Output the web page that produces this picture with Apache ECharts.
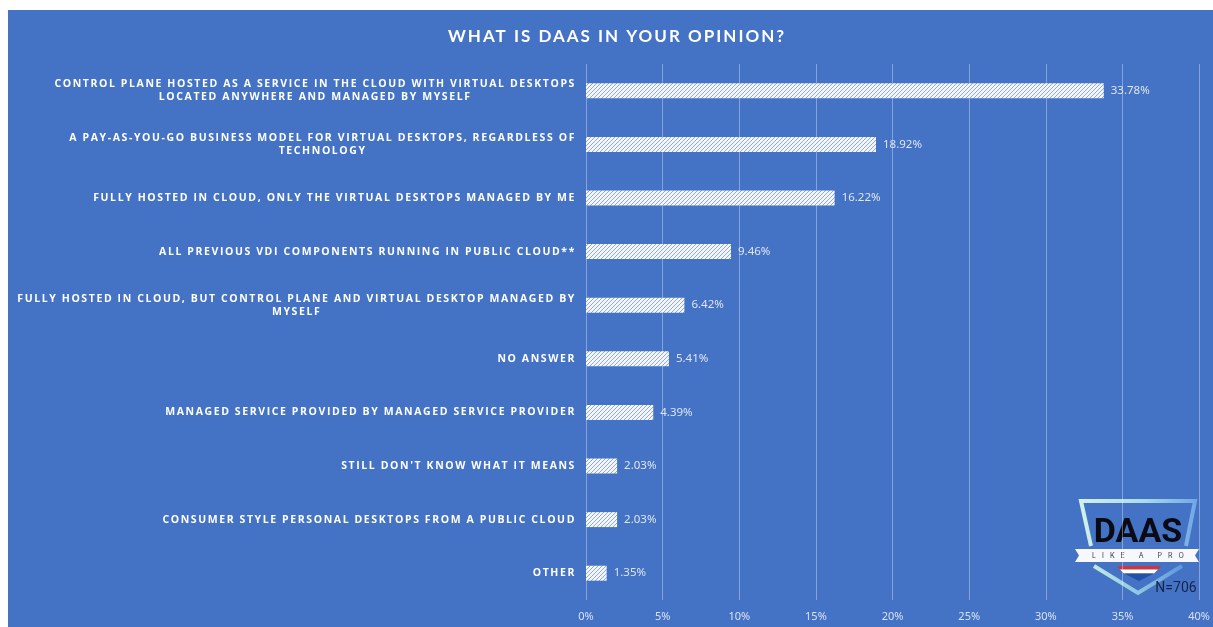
<!DOCTYPE html>
<html>
<head>
<meta charset="utf-8">
<script src="https://cdn.jsdelivr.net/npm/echarts@6/dist/echarts.min.js"></script>
<style>html,body{margin:0;padding:0;background:#fff;}#chart{width:1213px;height:627px;}</style>
</head>
<body>
<div id="chart"></div>
<script>
// letter spacing for spaced-out caps text (canvas letterSpacing)
(function(){
  var P = CanvasRenderingContext2D.prototype;
  if (!('letterSpacing' in P)) return;
  function ls(ctx){
    var f = ctx.font, s = '0px';
    if (f.indexOf('Open Sans') >= 0) s = '1.6px';
    else if (f.indexOf('Lato') >= 0) s = '2px';
    else if (f.indexOf('Inter') >= 0) s = '6px';
    if (ctx.letterSpacing !== s) ctx.letterSpacing = s;
  }
  var ft = P.fillText, mt = P.measureText;
  P.fillText = function(){ ls(this); return ft.apply(this, arguments); };
  P.measureText = function(){ ls(this); return mt.apply(this, arguments); };
})();

var titleText = 'WHAT IS DAAS IN YOUR OPINION?';
var categories = [
  'CONTROL PLANE HOSTED AS A SERVICE IN THE CLOUD WITH VIRTUAL DESKTOPS\nLOCATED ANYWHERE AND MANAGED BY MYSELF',
  'A PAY-AS-YOU-GO BUSINESS MODEL FOR VIRTUAL DESKTOPS, REGARDLESS OF\nTECHNOLOGY',
  'FULLY HOSTED IN CLOUD, ONLY THE VIRTUAL DESKTOPS MANAGED BY ME',
  'ALL PREVIOUS VDI COMPONENTS RUNNING IN PUBLIC CLOUD**',
  'FULLY HOSTED IN CLOUD, BUT CONTROL PLANE AND VIRTUAL DESKTOP MANAGED BY\nMYSELF',
  'NO ANSWER',
  'MANAGED SERVICE PROVIDED BY MANAGED SERVICE PROVIDER',
  "STILL DON'T KNOW WHAT IT MEANS",
  'CONSUMER STYLE PERSONAL DESKTOPS FROM A PUBLIC CLOUD',
  'OTHER'
];
var values = [33.78, 18.92, 16.22, 9.46, 6.42, 5.41, 4.39, 2.03, 2.03, 1.35];
var xTicks = { min: 0, max: 40, interval: 5 };
var logoTitle = 'DAAS';
var logoSub = 'LIKE A PRO';
var sampleNote = 'N=706';

// hatch pattern
var pc = document.createElement('canvas');
pc.width = 4; pc.height = 4;
var g = pc.getContext('2d');
g.fillStyle = '#f3f6fc'; g.fillRect(0, 0, 4, 4);
g.strokeStyle = '#8ea8da'; g.lineWidth = 1;
g.beginPath();
g.moveTo(0, 4); g.lineTo(4, 0);
g.moveTo(-1, 1); g.lineTo(1, -1);
g.moveTo(3, 5); g.lineTo(5, 3);
g.stroke();

var chart = echarts.init(document.getElementById('chart'), null, { renderer: 'canvas' });
var option = {
  backgroundColor: '#ffffff',
  animation: false,
  title: {
    text: titleText, left: 443, top: 22,
    textStyle: { color: '#ffffff', fontSize: 17, fontWeight: 'bold', fontFamily: 'Lato' }
  },
  grid: { left: 586, right: 11, top: 64, bottom: 27, containLabel: false },
  xAxis: {
    type: 'value', min: xTicks.min, max: xTicks.max, interval: xTicks.interval,
    axisLine: { show: false }, axisTick: { show: false },
    splitLine: { show: true, lineStyle: { color: 'rgba(255,255,255,0.35)', width: 1 } },
    axisLabel: { formatter: '{value}%', color: '#d9e2f3', fontSize: 11, fontFamily: 'Noto Sans', margin: 11 }
  },
  yAxis: {
    type: 'category', data: categories, inverse: true,
    axisLine: { show: false }, axisTick: { show: false },
    axisLabel: {
      margin: 10, color: '#ffffff', fontSize: 10.5, fontWeight: 'bold', fontFamily: 'Open Sans', lineHeight: 13,
      formatter: function (v) {
        var parts = v.split('\n');
        if (parts.length === 1) return v;
        return parts.map(function (p) { return '{c|' + p + '}'; }).join('\n');
      },
      rich: { c: { align: 'center', color: '#ffffff', fontSize: 10.5, fontWeight: 'bold', fontFamily: 'Open Sans', lineHeight: 13 } }
    }
  },
  series: [{
    type: 'bar', data: values, barWidth: 15,
    itemStyle: { color: { image: pc, repeat: 'repeat' } },
    label: {
      show: true, position: 'right', distance: 7, color: '#dfe6f3', fontSize: 11.5, fontFamily: 'Noto Sans',
      formatter: function (p) { return p.value.toFixed(2) + '%'; }
    }
  }],
  graphic: [
    { type: 'rect', z: -100, silent: true, shape: { x: 8, y: 10, width: 1205, height: 617 }, style: { fill: '#4472c4' } },
    { type: 'group', z: 100, silent: true, children: [
      { type: 'polyline', shape: { points: [[1091, 546], [1081, 501], [1195, 501], [1186, 546]] },
        style: { fill: null, lineWidth: 4, stroke: new echarts.graphic.LinearGradient(0, 0, 1, 0, [{ offset: 0, color: '#d2f0ea' }, { offset: 0.55, color: '#a9dce6' }, { offset: 1, color: '#6fa6e6' }]) } },
      { type: 'polyline', shape: { points: [[1094, 566], [1138, 593], [1182, 566]] },
        style: { fill: null, lineWidth: 4, stroke: new echarts.graphic.LinearGradient(0, 0, 1, 0, [{ offset: 0, color: '#c3ece0' }, { offset: 0.5, color: '#8fc7e0' }, { offset: 1, color: '#5b95dc' }]) } },
      { type: 'text', style: { text: logoTitle, x: 1138, y: 533, align: 'center', verticalAlign: 'middle', fill: '#0a0a14', font: 'bold 34px Roboto' } },
      { type: 'polygon', shape: { points: [[1075, 549], [1199, 549], [1195, 555.5], [1199, 562], [1075, 562], [1079, 555.5]] }, style: { fill: '#f6f8fc' } },
      { type: 'text', style: { text: logoSub, x: 1141, y: 556, align: 'center', verticalAlign: 'middle', fill: '#3a3a3a', font: '7px Inter' } },
      { type: 'polygon', shape: { points: [[1117, 566], [1161, 566], [1158, 569.5], [1120, 569.5]] }, style: { fill: '#d2343a' } },
      { type: 'polygon', shape: { points: [[1120, 569.5], [1158, 569.5], [1154, 573.5], [1124, 573.5]] }, style: { fill: '#ffffff' } },
      { type: 'polygon', shape: { points: [[1124, 573.5], [1154, 573.5], [1139, 581]] }, style: { fill: '#2350a8' } },
      { type: 'text', style: { text: sampleNote, x: 1176, y: 588, align: 'center', verticalAlign: 'middle', fill: '#15244a', font: '14px Roboto' } }
    ] }
  ]
};
chart.setOption(option);
</script>
</body>
</html>
